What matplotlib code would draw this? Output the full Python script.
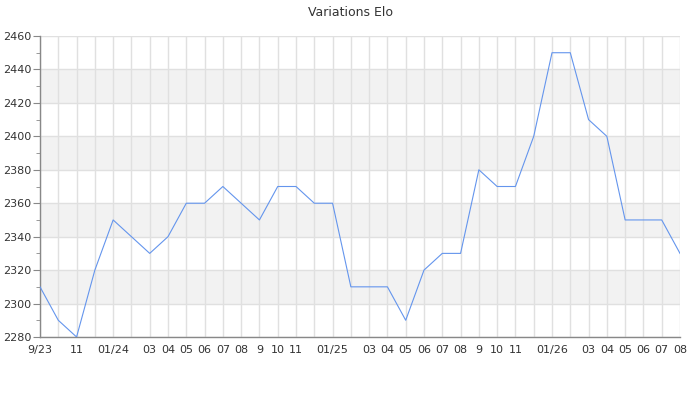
import matplotlib
matplotlib.use("Agg")
import matplotlib.pyplot as plt
from matplotlib.ticker import MultipleLocator

months = ["9/23", "10", "11", "12", "01/24", "02", "03", "04", "05", "06", "07", "08",
          "9", "10", "11", "12", "01/25", "02", "03", "04", "05", "06", "07", "08",
          "9", "10", "11", "12", "01/26", "02", "03", "04", "05", "06", "07", "08"]
shown_labels = ["9/23", "", "11", "", "01/24", "", "03", "04", "05", "06", "07", "08",
                "9", "10", "11", "", "01/25", "", "03", "04", "05", "06", "07", "08",
                "9", "10", "11", "", "01/26", "", "03", "04", "05", "06", "07", "08"]
elo = [2310, 2290, 2280, 2320, 2350, 2340, 2330, 2340, 2360, 2360, 2370, 2360,
       2350, 2370, 2370, 2360, 2360, 2310, 2310, 2310, 2290, 2320, 2330, 2330,
       2380, 2370, 2370, 2400, 2450, 2450, 2410, 2400, 2350, 2350, 2350, 2330]
y_min, y_max, y_step = 2280, 2460, 20

fig = plt.figure(figsize=(7, 4), dpi=100)
ax = fig.add_axes([40/700, 1 - 337/400, 640/700, 301/400])

x = list(range(len(elo)))
# alternating bands
for i, lo in enumerate(range(y_min, y_max, y_step)):
    if i % 2 == 1:
        ax.axhspan(lo, lo + y_step, color="#f2f2f2", zorder=0, lw=0)

for xi in x:
    ax.axvline(xi, color="#e0e0e0", lw=1, zorder=1)
for yv in range(y_min, y_max + 1, y_step):
    ax.axhline(yv, color="#e0e0e0", lw=1, zorder=1)

ax.plot(x, elo, color="#6495ed", lw=0.8, zorder=3)

ax.set_xlim(0, len(elo) - 1)
ax.set_ylim(y_min, y_max)
ax.set_xticks(x)
ax.set_xticklabels(shown_labels, fontsize=8, color="#333333")
ax.tick_params(axis="x", length=0, pad=6)
ax.yaxis.set_major_locator(MultipleLocator(20))
ax.yaxis.set_minor_locator(MultipleLocator(10))
ax.tick_params(axis="y", which="major", length=5, color="#888888", labelsize=8,
               labelcolor="#333333", pad=1)
ax.tick_params(axis="y", which="minor", length=3, color="#888888")

for s in ["top", "right"]:
    ax.spines[s].set_visible(False)
for s in ["left", "bottom"]:
    ax.spines[s].set_color("#888888")
    ax.spines[s].set_linewidth(1)

fig.suptitle("Variations Elo", y=1 - 12/400, va="center", fontsize=9, color="#333333")
fig.savefig("out.png", dpi=100)
